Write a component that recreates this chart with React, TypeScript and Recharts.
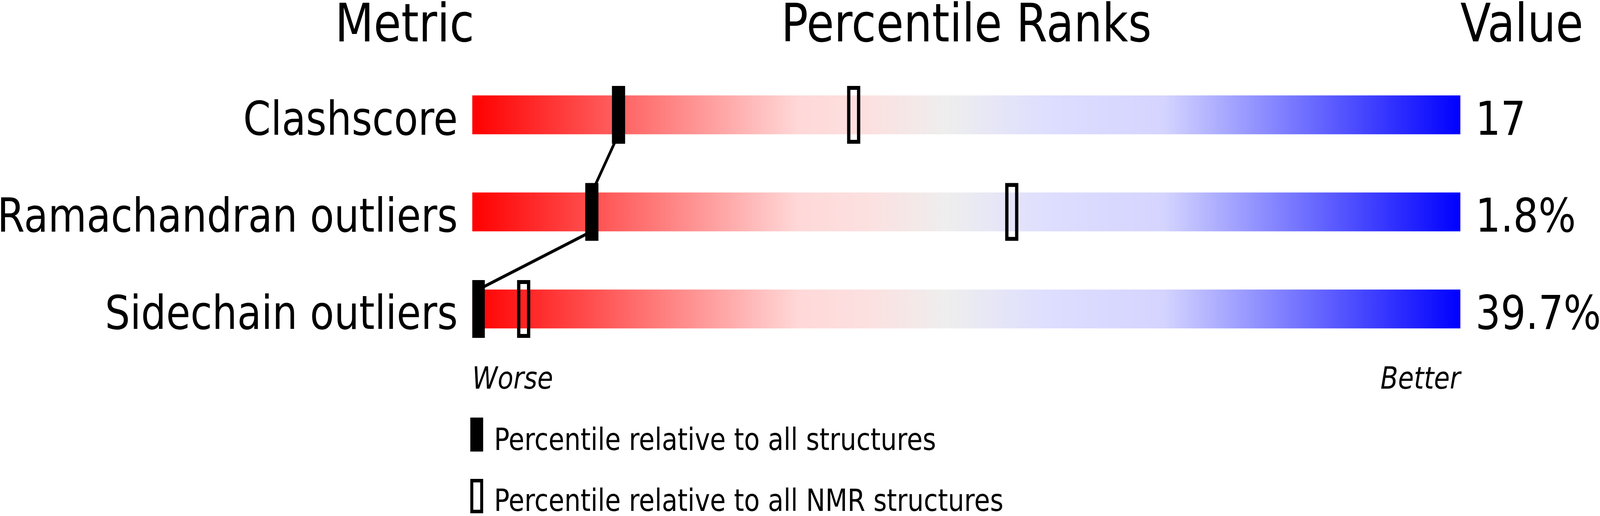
import { ComposedChart, Scatter, XAxis, YAxis, ReferenceArea } from 'recharts'

const METRICS = ['Clashscore', 'Ramachandran outliers', 'Sidechain outliers']
const METRIC_VALUES = ['17', '1.8%', '39.7%']
const PCT_ALL = [14.8, 12.1, 0.6]
const PCT_NMR = [38.6, 54.6, 5.2]
const END_LABELS = ['Worse', 'Better']
const TITLES = ['Metric', 'Percentile Ranks', 'Value']
const LEGEND_LABELS = [
  'Percentile relative to all structures',
  'Percentile relative to all NMR structures',
]

const W = 4858
const H = 1321
const FONT = '"DejaVu Sans", sans-serif'
const TRACK_HALF = 0.2 // half the track height, in row units
const ROWS = METRICS.map((_, i) => i)

const allPoints = PCT_ALL.map((x, i) => ({ x, y: i }))
const nmrPoints = PCT_NMR.map((x, i) => ({ x, y: i }))
// the link runs from the lower edge of one track to the upper edge of the next
const linkPoints = PCT_ALL.flatMap((x, i) => {
  const pts: { x: number; y: number }[] = []
  if (i > 0) pts.push({ x, y: i - TRACK_HALF })
  if (i < PCT_ALL.length - 1) pts.push({ x, y: i + TRACK_HALF })
  return pts
})

const SolidMark = (p: any) => (
  <rect x={p.cx - 20} y={p.cy - 74} width={40} height={148} fill="#000" />
)
const HollowMark = (p: any) => (
  <rect x={p.cx - 15} y={p.cy - 69} width={30} height={138} fill="none" stroke="#000" strokeWidth={10} />
)
const NoMark = () => <g />

const MetricTick = ({ x, y, payload }: any) => (
  <text x={x - 44} y={y + 51} textAnchor="end" fontSize={120} fontFamily={FONT} fill="#000">
    {METRICS[payload.value]}
  </text>
)
const ValueTick = ({ x, y, payload }: any) => (
  <text x={x + 46} y={y + 51} textAnchor="start" fontSize={120} fontFamily={FONT} fill="#000">
    {METRIC_VALUES[payload.value]}
  </text>
)
const EndTick = ({ x, y, payload }: any) => (
  <text
    x={x}
    y={y + 80}
    textAnchor={payload.value === 0 ? 'start' : 'end'}
    fontSize={78}
    fontStyle="italic"
    fontFamily={FONT}
    fill="#000"
  >
    {payload.value === 0 ? END_LABELS[0] : END_LABELS[1]}
  </text>
)

export default function App() {
  // the browser may cap the window narrower than the 4858px design; squeeze x to fit
  const kx = Math.min(1, (typeof window !== 'undefined' ? window.innerWidth : W) / W)

  return (
    <div style={{ position: 'absolute', left: 0, top: 0, width: '100vw', height: H, overflow: 'hidden', background: '#fff' }}>
      <div style={{ width: W, height: H, transform: `scale(${kx}, 1)`, transformOrigin: '0 0' }}>
        <ComposedChart width={W} height={H} margin={{ top: 169.75, right: 0, bottom: 0, left: 0 }}>
          <defs>
            <linearGradient id="track" x1="0" y1="0" x2="1" y2="0">
              <stop offset="0%" stopColor="#ff0000" />
              <stop offset="33%" stopColor="#ffd8d8" />
              <stop offset="40%" stopColor="#fce0e0" />
              <stop offset="48%" stopColor="#eeeeee" />
              <stop offset="58%" stopColor="#dedeff" />
              <stop offset="70%" stopColor="#d4d4ff" />
              <stop offset="100%" stopColor="#0000ff" />
            </linearGradient>
          </defs>
          <XAxis
            type="number"
            dataKey="x"
            domain={[0, 100]}
            ticks={[0, 100]}
            interval={0}
            height={405.75}
            axisLine={false}
            tickLine={false}
            tickSize={0}
            tickMargin={0}
            tick={<EndTick />}
            allowDataOverflow
          />
          <YAxis
            yAxisId="left"
            type="number"
            dataKey="y"
            domain={[-0.5, 2.5]}
            ticks={ROWS}
            interval={0}
            reversed
            width={1434}
            axisLine={false}
            tickLine={false}
            tickSize={0}
            tickMargin={0}
            tick={<MetricTick />}
            allowDataOverflow
          />
          <YAxis
            yAxisId="right"
            orientation="right"
            type="number"
            dataKey="y"
            domain={[-0.5, 2.5]}
            ticks={ROWS}
            interval={0}
            reversed
            width={424}
            axisLine={false}
            tickLine={false}
            tickSize={0}
            tickMargin={0}
            tick={<ValueTick />}
            allowDataOverflow
          />
          {ROWS.map((i) => (
            <ReferenceArea
              key={i}
              yAxisId="left"
              x1={0}
              x2={100}
              y1={i - TRACK_HALF}
              y2={i + TRACK_HALF}
              fill="url(#track)"
              fillOpacity={1}
              stroke="none"
            />
          ))}
          <Scatter
            yAxisId="left"
            data={linkPoints}
            line={{ stroke: '#000', strokeWidth: 8 }}
            shape={<NoMark />}
            isAnimationActive={false}
          />
          <Scatter yAxisId="right" data={nmrPoints} shape={<HollowMark />} isAnimationActive={false} />
          <Scatter yAxisId="left" data={allPoints} shape={<SolidMark />} isAnimationActive={false} />

          <text x={1440} y={106} textAnchor="end" fontSize={136} fontFamily={FONT} fill="#000">
            {TITLES[0]}
          </text>
          <text x={2934} y={106} textAnchor="middle" fontSize={136} fontFamily={FONT} fill="#000">
            {TITLES[1]}
          </text>
          <text x={4434} y={106} textAnchor="start" fontSize={136} fontFamily={FONT} fill="#000">
            {TITLES[2]}
          </text>

          {LEGEND_LABELS.map((label, i) => (
            <g key={label}>
              {i === 0 ? (
                <rect x={1428} y={1069} width={39} height={87} fill="#000" />
              ) : (
                <rect x={1432.5} y={1230.5} width={30} height={79} fill="none" stroke="#000" strokeWidth={9} />
              )}
              <text x={1500} y={1152 + i * 156} fontSize={78} fontFamily={FONT} fill="#000">
                {label}
              </text>
            </g>
          ))}
        </ComposedChart>
      </div>
    </div>
  )
}
